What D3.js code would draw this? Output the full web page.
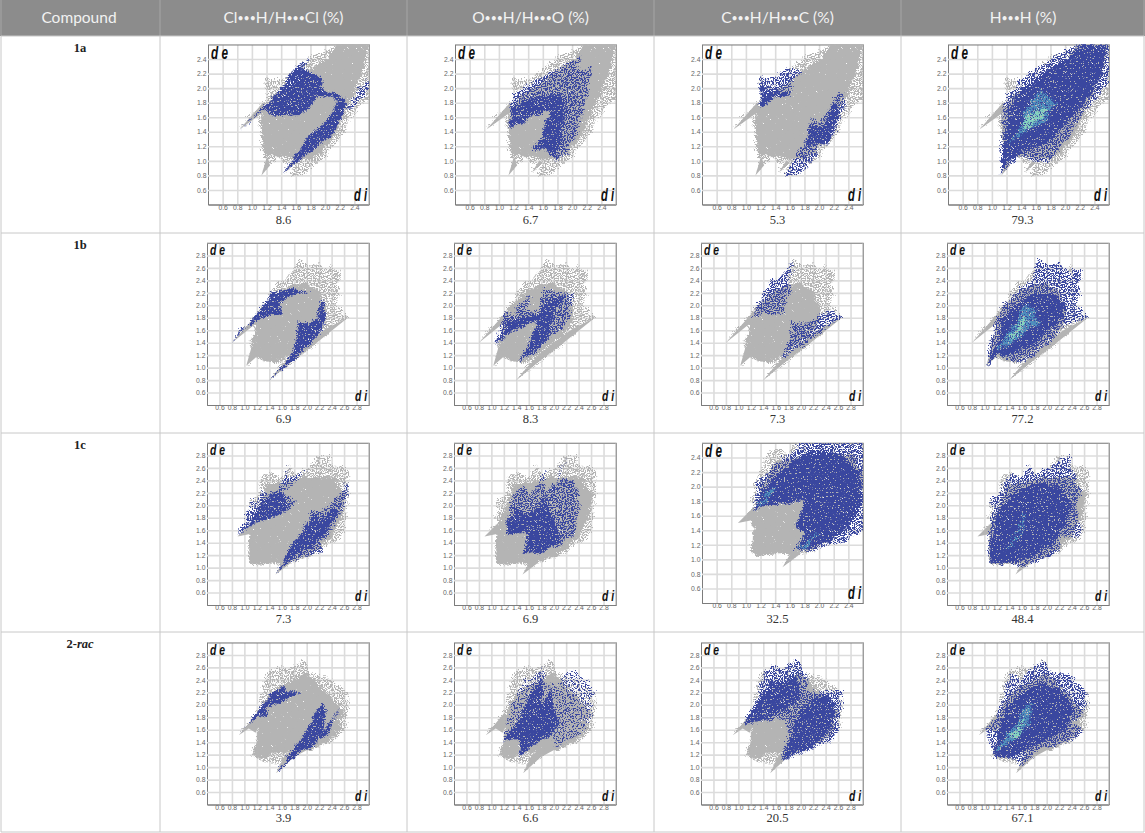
<!DOCTYPE html>
<html><head><meta charset="utf-8">
<script src="https://cdn.jsdelivr.net/npm/d3@7/dist/d3.min.js"></script>
<style>html,body{margin:0;padding:0;background:#fff}svg{display:block}</style>
</head><body><svg id="c" width="1145" height="833"></svg>
<script>
// ---- table content ----
const headers = ["Compound","Cl•••H/H•••Cl (%)","O•••H/H•••O (%)","C•••H/H•••C (%)","H•••H (%)"];
const compounds = ["1a","1b","1c","2-rac"];
const values1a = ["8.6","6.7","5.3","79.3"];
const values1b = ["6.9","8.3","7.3","77.2"];
const values1c = ["7.3","6.9","32.5","48.4"];
const values2r = ["3.9","6.6","20.5","67.1"];
const ticksShort = [0.6,0.8,1.0,1.2,1.4,1.6,1.8,2.0,2.2,2.4];
const ticksLong = [0.6,0.8,1.0,1.2,1.4,1.6,1.8,2.0,2.2,2.4,2.6,2.8];

// ---- fingerprint outlines: [di, de] ----
const greyOuter1a = [[0.83,1.43],[1.13,1.78],[1.2,1.85],[1.2,2.14],[1.25,2.1],[1.4,2.12],[1.55,2.2],[1.65,2.3],[1.8,2.42],[2.0,2.5],[2.15,2.62],[2.62,2.62],[2.62,1.9],[2.45,1.7],[2.3,1.5],[2.2,1.3],[2.13,1.2],[2.0,1.05],[1.9,0.95],[1.75,0.85],[1.6,0.78],[1.55,0.78],[1.55,0.88],[1.45,0.84],[1.55,1.0],[1.45,0.95],[1.35,1.05],[1.25,0.95],[1.13,0.8],[1.2,0.92],[1.15,1.15],[1.1,1.4],[1.13,1.7]];
const greyCore1a = [[1.12,1.4],[1.15,1.7],[1.3,1.9],[1.55,2.08],[1.8,2.25],[2.0,2.4],[2.15,2.6],[2.55,2.62],[2.52,2.3],[2.38,1.95],[2.22,1.62],[2.12,1.38],[1.95,1.15],[1.75,1.02],[1.5,1.06],[1.3,1.08],[1.18,1.12]];
const wedges1a = [[[0.83,1.43],[1.15,1.8],[1.2,1.7]],[[1.13,0.8],[1.25,0.94],[1.2,1.04]],[[1.45,0.84],[1.6,0.98],[1.55,1.0]]];
const greyOuter1b = [[0.8,1.4],[1.26,1.92],[1.44,2.22],[1.5,2.35],[1.68,2.43],[1.9,2.72],[2.0,2.62],[2.19,2.66],[2.35,2.51],[2.4,2.6],[2.54,2.51],[2.51,2.24],[2.46,1.98],[2.67,1.81],[2.3,1.52],[2.03,1.28],[1.79,1.07],[1.39,0.79],[1.58,1.07],[1.39,1.1],[1.26,1.16],[1.18,1.18],[1.03,1.03],[1.12,1.26],[1.11,1.42],[1.18,1.6],[1.15,1.72]];
const greyCore1b = [[1.12,1.3],[1.18,1.18],[1.3,1.12],[1.5,1.1],[1.7,1.2],[1.85,1.33],[2.1,1.5],[2.25,1.68],[2.3,1.9],[2.22,2.2],[2.0,2.35],[1.8,2.33],[1.55,2.22],[1.35,2.05],[1.22,1.85],[1.15,1.6],[1.12,1.45]];
const wedges1b = [[[0.8,1.4],[1.26,1.92],[1.3,1.75],[1.15,1.68]],[[1.03,1.03],[1.2,1.18],[1.12,1.35]],[[1.39,0.79],[1.79,1.12],[2.1,1.35],[2.67,1.81],[2.3,1.62],[2.0,1.4],[1.75,1.2]]];
const greyOuter1c = [[0.89,1.5],[1.07,1.68],[1.11,2.08],[1.18,2.09],[1.28,2.43],[1.44,2.52],[1.58,2.45],[1.72,2.67],[1.79,2.53],[2.0,2.56],[2.16,2.75],[2.36,2.83],[2.35,2.67],[2.46,2.61],[2.7,2.59],[2.67,2.43],[2.65,1.84],[2.56,1.46],[2.24,1.28],[1.95,1.12],[1.74,1.06],[1.5,0.89],[1.6,1.06],[1.34,1.12],[1.1,1.06],[1.07,1.12],[1.1,1.41],[1.11,1.62],[0.99,1.6]];
const greyCore1c = [[1.07,1.12],[1.12,1.06],[1.4,1.08],[1.7,1.1],[2.0,1.2],[2.2,1.35],[2.4,1.55],[2.55,1.85],[2.6,2.15],[2.45,2.45],[2.2,2.45],[1.95,2.45],[1.6,2.38],[1.4,2.35],[1.22,2.0],[1.1,1.6]];
const wedges1c = [[[0.89,1.5],[1.11,1.72],[1.15,1.55]],[[1.5,0.89],[1.75,1.08],[1.65,1.15]]];
const greyOuter2r = [[0.91,1.51],[1.2,1.86],[1.28,2.23],[1.42,2.55],[1.6,2.59],[1.79,2.6],[1.96,2.71],[2.08,2.5],[2.48,2.36],[2.62,2.18],[2.69,1.99],[2.62,1.59],[2.38,1.35],[2.06,1.3],[1.79,1.16],[1.51,0.9],[1.63,1.06],[1.36,1.06],[1.2,1.14],[1.12,1.19],[1.18,1.51],[1.07,1.64]];
const greyCore2r = [[1.15,1.17],[1.25,1.13],[1.5,1.25],[1.7,1.22],[1.85,1.25],[2.05,1.3],[2.3,1.42],[2.5,1.6],[2.55,1.9],[2.4,2.1],[2.2,2.3],[2.0,2.5],[1.85,2.45],[1.55,2.3],[1.35,2.1],[1.25,1.85],[1.2,1.6]];
const wedges2r = [[[0.91,1.51],[1.2,1.86],[1.3,1.8],[1.18,1.55],[1.07,1.62]],[[1.51,0.9],[1.79,1.16],[2.05,1.3],[1.85,1.3],[1.65,1.2]]];

const clUp1a = [[0.84,1.42],[1.0,1.58],[1.16,1.74],[1.3,1.88],[1.43,2.04],[1.57,2.26],[1.8,2.41],[1.68,2.26],[1.82,2.22],[1.97,2.13],[1.93,1.99],[2.02,1.95],[2.27,1.85],[2.28,1.8],[2.05,1.88],[1.9,1.9],[1.8,1.72],[1.65,1.63],[1.43,1.62],[1.25,1.62],[1.2,1.7],[1.1,1.65],[0.95,1.52]];
const clLow1a = [[1.43,0.83],[1.68,1.2],[1.73,1.29],[1.89,1.42],[2.05,1.6],[2.18,1.83],[2.25,1.85],[2.3,1.79],[2.18,1.51],[2.11,1.38],[1.89,1.2],[1.66,1.01]];
const clThin1a = [[2.3,1.72],[2.59,2.15],[2.59,1.98],[2.39,1.72]];
const oSparse1a = [[1.18,1.85],[1.33,2.03],[1.5,2.1],[1.7,2.2],[1.9,2.3],[2.12,2.45],[2.05,2.2],[2.27,2.3],[2.2,1.9],[2.1,1.5],[1.93,1.1],[1.75,0.98],[1.61,1.18],[1.45,1.14],[1.59,1.34],[1.7,1.7],[1.38,1.57],[1.14,1.45]];
const oDense1a = [[1.14,1.45],[1.18,1.75],[1.4,1.85],[1.7,1.92],[1.85,1.95],[1.9,1.7],[1.85,1.3],[1.75,1.05],[1.61,1.18],[1.45,1.14],[1.59,1.34],[1.7,1.7],[1.38,1.57]];
const cUp1a = [[1.2,1.82],[1.21,2.14],[1.3,2.12],[1.41,2.16],[1.55,2.27],[1.71,2.23],[1.8,2.2],[1.64,2.09],[1.6,1.9],[1.37,1.86],[1.23,1.73]];
const cLow1a = [[1.55,0.77],[1.62,0.93],[1.83,1.3],[1.89,1.59],[2.0,1.52],[2.12,1.68],[2.26,1.95],[2.37,1.77],[2.21,1.43],[2.12,1.2],[1.99,1.2],[1.94,1.07],[1.83,0.88]];
const cDense1a = [[1.2,1.78],[1.2,2.0],[1.45,1.98],[1.6,1.9],[1.37,1.86],[1.23,1.75]];
const cDenseB1a = [[1.8,1.2],[1.89,1.5],[2.05,1.45],[2.2,1.8],[2.28,1.7],[2.15,1.3],[2.1,1.22],[1.95,1.25]];
const hSparse1a = [[1.11,0.8],[1.13,1.24],[1.15,1.69],[1.2,1.87],[1.38,2.1],[1.56,2.24],[1.75,2.33],[1.97,2.49],[2.15,2.62],[2.62,2.62],[2.62,2.19],[2.47,1.9],[2.25,1.65],[2.1,1.42],[1.88,1.1],[1.75,0.94],[1.56,1.0],[1.38,1.05],[1.2,0.87]];
const hDense1a = [[1.12,0.82],[1.18,1.3],[1.22,1.7],[1.4,2.0],[1.7,2.2],[2.0,2.4],[2.25,2.6],[2.55,2.58],[2.5,2.15],[2.25,1.8],[2.0,1.5],[1.75,1.25],[1.4,1.12],[1.22,1.0]];
const hHeatA1a = [[1.2,1.21],[1.43,1.49],[1.47,1.69],[1.65,1.99],[1.88,1.78],[1.7,1.51],[1.34,1.33]];
const hHeatB1a = [[1.42,1.45],[1.5,1.62],[1.68,1.72],[1.78,1.68],[1.65,1.55],[1.45,1.4]];

const clUp1b = [[0.8,1.4],[1.26,1.92],[1.44,2.19],[1.71,2.26],[2.08,2.22],[1.87,2.19],[1.71,2.14],[1.55,2.03],[1.65,1.85],[1.44,1.86],[1.28,1.79],[1.12,1.68],[0.96,1.63]];
const clLow1b = [[1.39,0.79],[1.66,1.1],[1.79,1.26],[1.84,1.52],[1.87,1.74],[1.98,1.71],[2.14,1.76],[2.22,2.06],[2.27,2.08],[2.31,1.84],[2.24,1.58],[2.08,1.42],[1.87,1.18]];
const oSparse1b = [[1.06,1.39],[1.19,1.74],[1.22,1.87],[1.38,1.84],[1.43,2.0],[1.65,2.16],[1.57,1.9],[1.81,1.92],[1.81,2.27],[1.99,2.24],[2.18,2.19],[2.31,2.19],[2.26,1.84],[2.13,1.58],[1.91,1.47],[1.7,1.2],[1.44,1.1],[1.65,1.47],[1.73,1.74],[1.43,1.63],[1.25,1.52]];
const oDense1b = [[1.06,1.39],[1.2,1.6],[1.25,1.75],[1.45,1.8],[1.75,1.85],[1.8,2.0],[2.0,2.1],[2.22,2.18],[2.0,1.9],[1.95,1.65],[1.85,1.4],[1.65,1.25],[1.44,1.1],[1.65,1.47],[1.73,1.74],[1.43,1.63],[1.25,1.52]];
const cUp1b = [[1.23,1.79],[1.39,2.16],[1.5,2.38],[1.71,2.48],[1.89,2.72],[1.79,2.43],[1.84,2.14],[1.71,2.0],[1.75,1.85],[1.55,1.84],[1.42,1.89]];
const cLow1b = [[1.7,1.15],[1.82,1.42],[1.86,1.75],[1.98,1.71],[2.14,1.71],[2.3,1.85],[2.46,1.89],[2.67,1.81],[2.3,1.55],[1.92,1.26]];
const hSparse1b = [[1.03,1.03],[1.1,1.36],[1.15,1.63],[1.34,2.03],[1.58,2.27],[1.74,2.4],[1.87,2.72],[1.98,2.62],[2.19,2.67],[2.38,2.48],[2.43,2.59],[2.55,2.51],[2.51,2.22],[2.46,1.98],[2.66,1.81],[2.32,1.68],[2.06,1.42],[1.84,1.2],[1.58,1.1],[1.36,1.11],[1.2,1.23]];
const hDense1b = [[1.05,1.05],[1.2,1.4],[1.3,1.8],[1.55,2.05],[1.8,2.2],[2.1,2.2],[2.3,2.0],[2.2,1.75],[1.95,1.55],[1.75,1.35],[1.4,1.2],[1.2,1.2]];
const hHeatA1b = [[1.2,1.26],[1.47,1.69],[1.63,1.96],[1.76,2.0],[1.9,1.69],[1.68,1.58],[1.42,1.37]];
const hHeatB1b = [[1.39,1.42],[1.5,1.63],[1.63,1.79],[1.71,1.76],[1.6,1.58]];

const clUp1c = [[0.89,1.5],[1.11,1.97],[1.15,2.09],[1.2,1.97],[1.26,2.24],[1.36,2.1],[1.58,2.29],[1.72,2.67],[1.68,2.43],[2.03,2.56],[1.79,2.35],[1.6,2.19],[1.84,2.08],[1.66,1.89],[1.44,1.81],[1.07,1.65]];
const clUpD1c = [[0.89,1.5],[1.15,1.8],[1.25,2.05],[1.5,2.2],[1.62,2.2],[1.7,2.0],[1.66,1.89],[1.44,1.81],[1.07,1.65]];
const clLow1c = [[1.49,0.89],[1.76,1.36],[1.95,1.62],[2.11,1.92],[2.24,1.87],[2.46,2.11],[2.65,2.33],[2.62,2.05],[2.46,1.7],[2.24,1.41],[2.24,1.25],[2.03,1.2],[1.87,1.12],[1.71,1.07]];
const clLowD1c = [[1.55,0.95],[1.76,1.38],[1.95,1.6],[2.1,1.85],[2.25,1.8],[2.42,1.95],[2.5,1.9],[2.3,1.55],[2.05,1.32],[1.8,1.2]];
const oSparse1c = [[1.22,1.52],[1.33,2.1],[1.49,2.34],[1.62,2.1],[1.86,2.58],[1.86,2.21],[2.02,2.37],[2.21,2.74],[2.07,2.43],[2.34,2.4],[2.42,2.0],[2.31,1.52],[2.18,1.41],[1.86,1.25],[1.78,1.21],[1.51,1.22],[1.59,1.58],[1.27,1.51]];
const oDense1c = [[1.22,1.52],[1.25,1.72],[1.4,1.95],[1.5,1.9],[1.6,1.85],[1.8,2.05],[1.85,2.2],[1.9,1.9],[2.05,1.7],[2.1,1.45],[1.85,1.25],[1.51,1.22],[1.59,1.58]];
const cSparse1c = [[1.11,1.64],[1.14,2.04],[1.18,2.08],[1.27,2.13],[1.36,2.26],[1.64,2.47],[1.7,2.62],[2.62,2.62],[2.62,1.4],[2.36,1.26],[2.09,1.15],[1.82,1.1],[1.64,1.12],[1.82,1.35],[1.68,1.45],[1.82,1.81],[1.25,1.74]];
const cDense1c = [[1.11,1.65],[1.2,1.9],[1.35,2.1],[1.65,2.35],[1.9,2.5],[2.3,2.45],[2.55,2.2],[2.58,1.8],[2.45,1.5],[2.15,1.25],[1.7,1.13],[1.82,1.35],[1.68,1.45],[1.82,1.81],[1.25,1.74]];
const cHeatA1c = [[1.15,1.72],[1.35,1.98],[1.4,1.96],[1.2,1.72]];
const cHeatB1c = [[1.7,1.13],[1.95,1.35],[2.0,1.36],[1.8,1.15]];
const hSparse1c = [[1.07,1.25],[1.13,2.08],[1.34,2.32],[1.44,2.5],[1.58,2.45],[1.72,2.67],[1.79,2.5],[2.08,2.61],[2.35,2.83],[2.38,2.59],[2.46,2.43],[2.54,2.24],[2.46,1.95],[2.56,1.49],[2.24,1.52],[2.19,1.28],[1.95,1.12],[1.6,0.98],[1.52,1.06],[1.11,1.06]];
const hDense1c = [[1.08,1.08],[1.12,1.5],[1.25,1.95],[1.5,2.2],[1.8,2.35],[2.15,2.35],[2.4,2.05],[2.3,1.7],[2.1,1.4],[1.8,1.2],[1.4,1.08]];
const hHeatA1c = [[1.35,1.3],[1.5,1.55],[1.62,1.85],[1.7,1.8],[1.6,1.5],[1.42,1.3]];

const clUp2r = [[0.91,1.51],[1.2,1.86],[1.44,2.18],[1.66,2.32],[1.68,2.2],[1.9,2.2],[1.68,2.09],[1.36,1.94],[1.36,1.83],[1.2,1.8],[1.04,1.67]];
const clLow2r = [[1.51,0.9],[1.79,1.3],[1.98,1.56],[2.24,2.03],[2.31,1.94],[2.27,1.56],[2.51,1.93],[2.35,1.56],[2.06,1.32],[1.79,1.16]];
const oSparse2r = [[1.17,1.43],[1.35,2.02],[1.54,2.39],[1.67,2.42],[1.83,2.6],[1.86,2.35],[1.99,2.31],[2.26,2.55],[2.58,2.36],[2.63,2.15],[2.63,1.83],[2.42,1.51],[2.02,1.32],[1.97,1.46],[1.81,1.46],[1.45,1.16],[1.46,1.45]];
const oDense2r = [[1.17,1.43],[1.4,1.7],[1.55,2.0],[1.7,2.3],[1.8,2.55],[1.82,2.0],[1.95,2.3],[2.0,1.95],[2.1,1.7],[1.95,1.5],[1.81,1.46],[1.45,1.16],[1.46,1.45]];
const cSparse2r = [[1.09,1.67],[1.29,2.07],[1.45,2.53],[1.53,2.6],[1.72,2.55],[1.8,2.63],[1.96,2.71],[2.09,2.47],[2.09,2.2],[2.36,2.2],[2.62,2.23],[2.68,1.96],[2.6,1.72],[2.62,1.59],[2.52,1.4],[2.2,1.3],[1.69,1.09],[1.8,1.52],[1.77,1.75],[1.4,1.75],[1.18,1.67]];
const cDense2r = [[1.09,1.67],[1.3,2.05],[1.5,2.4],[1.75,2.4],[1.95,2.5],[2.0,2.1],[1.8,1.95],[1.5,1.8],[1.2,1.7]];
const cDenseB2r = [[1.7,1.12],[2.2,1.35],[2.5,1.65],[2.55,2.0],[2.45,2.15],[2.2,2.1],[2.0,1.9],[1.9,1.7],[1.85,1.5]];
const hSparse2r = [[1.13,1.27],[1.02,1.61],[1.18,1.77],[1.34,2.2],[1.44,2.49],[1.58,2.41],[1.82,2.62],[1.95,2.68],[2.06,2.54],[2.4,2.44],[2.56,2.3],[2.67,1.99],[2.56,1.83],[2.4,1.69],[2.59,1.56],[2.4,1.4],[2.14,1.35],[1.87,1.27],[1.6,1.03],[1.5,1.13],[1.18,1.16]];
const hDense2r = [[1.15,1.15],[1.2,1.5],[1.35,1.95],[1.6,2.2],[1.9,2.35],[2.2,2.25],[2.45,1.95],[2.3,1.6],[2.0,1.45],[1.7,1.3],[1.4,1.15]];
const hHeatA2r = [[1.18,1.21],[1.47,1.67],[1.68,1.96],[1.74,2.06],[1.74,1.72],[1.55,1.51],[1.28,1.27]];
const hHeatB2r = [[1.4,1.48],[1.55,1.68],[1.65,1.75],[1.57,1.47]];

// ---- styling and page layout (not data) ----
const GREY="#b4b4b4", BLUE="#3a479f", HA="#4f8fbc", HB="#86d2bf";
const colLefts=[208,455,702,948], colWidth=161;
const rowTops=[44.5,243,443,642.5], plotH=[160,162,162,162];
const colEdges=[1,160,407,654,901,1144], rowEdges=[36,233,433,632,832];
const valueY=[220,419,619,818];

const svg=d3.select("#c");
const defs=svg.append("defs");
function mkFilter(id,cut,fine,coarse,blur){
  const f=defs.append("filter").attr("id",id).attr("x","-10%").attr("y","-10%").attr("width","120%").attr("height","120%")
    .attr("color-interpolation-filters","sRGB");
  f.append("feTurbulence").attr("type","fractalNoise").attr("baseFrequency","0.73 0.79").attr("numOctaves",3).attr("seed",11).attr("result","n");
  f.append("feTurbulence").attr("type","fractalNoise").attr("baseFrequency",0.11).attr("numOctaves",2).attr("seed",4).attr("result","n2");
  f.append("feDisplacementMap").attr("in","SourceGraphic").attr("in2","n2").attr("scale",coarse).attr("xChannelSelector","R").attr("yChannelSelector","G").attr("result","d1");
  f.append("feDisplacementMap").attr("in","d1").attr("in2","n").attr("scale",fine).attr("xChannelSelector","G").attr("yChannelSelector","R").attr("result","d");
  f.append("feColorMatrix").attr("in","n").attr("type","matrix").attr("values",`0 0 0 0 0 0 0 0 0 0 0 0 0 0 0 14 0 0 0 ${cut}`).attr("result","m");
  f.append("feComposite").attr("in","d").attr("in2","m").attr("operator","in").attr("result","s");
  f.append("feGaussianBlur").attr("in","s").attr("stdDeviation",blur);
}
mkFilter("sparse",-7.4,8,8,0.3);
mkFilter("mid",-6.4,8,8,0.3);
mkFilter("dense",-4.2,6,6,0.3);
mkFilter("heat",-5.6,8,10,0.6);

svg.append("rect").attr("width",1145).attr("height",833).attr("fill","#fff");
svg.append("rect").attr("width",1145).attr("height",36).attr("fill","#8c8c8c");
const headCx=[79,283.5,530.5,777.5,1023];
const head=svg.selectAll("text.h").data(headers).join("text").attr("class","h")
  .attr("x",(d,i)=>headCx[i]).attr("y",23).attr("text-anchor","middle")
  .attr("fill","#f2f2f2").style("font","15.5px Lato, sans-serif");
head.each(function(d){
  const t=d3.select(this);
  d.split("•••").forEach((part,i)=>{
    if(i>0) t.append("tspan").attr("font-size",10.5).attr("dy",-1.5).text("•••");
    t.append("tspan").attr("dy",i>0?1.5:0).text(part);
  });
});
colEdges.forEach(e=>{
  svg.append("line").attr("x1",e).attr("x2",e).attr("y1",0).attr("y2",36).attr("stroke","#a6a6a6");
  svg.append("line").attr("x1",e).attr("x2",e).attr("y1",36).attr("y2",832).attr("stroke","#c8c8c8");
});
rowEdges.forEach(e=>svg.append("line").attr("x1",1).attr("x2",1144).attr("y1",e).attr("y2",e).attr("stroke","#c8c8c8"));
compounds.forEach((c,i)=>{
  const t=svg.append("text").attr("x",80).attr("y",rowEdges[i]+16).attr("text-anchor","middle")
    .attr("fill","#222").style("font","bold 12.5px 'Liberation Serif', serif");
  if(c.includes("-")){const [a,b]=c.split("-");t.append("tspan").text(a+"-");t.append("tspan").attr("font-style","italic").text(b);}
  else t.text(c);
});

const greys=[[greyOuter1a,greyCore1a,wedges1a],[greyOuter1b,greyCore1b,wedges1b],[greyOuter1c,greyCore1c,wedges1c],[greyOuter2r,greyCore2r,wedges2r]];
const valueRows=[values1a,values1b,values1c,values2r];
const panels=[
 [
  [["mid",BLUE,clThin1a],["dense",BLUE,clUp1a],["dense",BLUE,clLow1a]],
  [["mid",BLUE,oSparse1a],["dense",BLUE,oDense1a]],
  [["mid",BLUE,cUp1a],["mid",BLUE,cLow1a],["dense",BLUE,cDense1a],["dense",BLUE,cDenseB1a]],
  [["mid",BLUE,hSparse1a],["dense",BLUE,hDense1a],["dense",BLUE,hDense1a],["heat",HA,hHeatA1a],["heat",HB,hHeatB1a]]
 ],[
  [["dense",BLUE,clUp1b],["dense",BLUE,clLow1b]],
  [["mid",BLUE,oSparse1b],["dense",BLUE,oDense1b]],
  [["mid",BLUE,cUp1b],["mid",BLUE,cLow1b]],
  [["sparse",BLUE,hSparse1b],["mid",BLUE,hSparse1b],["dense",BLUE,hDense1b],["dense",BLUE,hDense1b],["heat",HA,hHeatA1b],["heat",HB,hHeatB1b]]
 ],[
  [["mid",BLUE,clUp1c],["mid",BLUE,clLow1c],["dense",BLUE,clUpD1c],["dense",BLUE,clLowD1c]],
  [["mid",BLUE,oSparse1c],["dense",BLUE,oDense1c]],
  [["mid",BLUE,cSparse1c],["dense",BLUE,cDense1c],["dense",BLUE,cDense1c],["heat",HA,cHeatA1c],["heat",HA,cHeatB1c]],
  [["mid",BLUE,hSparse1c],["dense",BLUE,hDense1c],["dense",BLUE,hDense1c],["sparse",HA,hHeatA1c]]
 ],[
  [["dense",BLUE,clUp2r],["dense",BLUE,clLow2r]],
  [["sparse",BLUE,oSparse2r],["mid",BLUE,oDense2r],["dense",BLUE,oDense2r]],
  [["mid",BLUE,cSparse2r],["dense",BLUE,cDense2r],["dense",BLUE,cDenseB2r]],
  [["mid",BLUE,hSparse2r],["dense",BLUE,hDense2r],["dense",BLUE,hDense2r],["heat",HA,hHeatA2r],["heat",HB,hHeatB2r]]
 ]
];

function isShort(r,c){return r===0||(r===2&&c===2);}
const path=(x,y)=>d3.line().x(d=>x(d[0])).y(d=>y(d[1])).curve(d3.curveLinearClosed);

panels.forEach((row,r)=>row.forEach((layers,c)=>{
  const short=isShort(r,c);
  const left=colLefts[c]-(short?0:1), w=colWidth+(short?0:1), h=short?160:plotH[r];
  const top=rowTops[r];
  const x=d3.scaleLinear().domain(short?[0.4,2.6]:[0.4,3.0]).range([0,w]);
  const y=d3.scaleLinear().domain(short?[0.4,2.6]:[0.4,3.0]).range([h,0]);
  const ticks=short?ticksShort:ticksLong;
  const g=svg.append("g").attr("transform",`translate(${left},${top})`);
  const clipId=`clip${r}${c}`;
  defs.append("clipPath").attr("id",clipId).append("rect").attr("width",w).attr("height",h);

  const axX=g.append("g").attr("transform",`translate(0,${h})`)
    .call(d3.axisBottom(x).tickValues(ticks).tickFormat(d3.format(".1f")).tickSize(-h).tickPadding(0.5));
  const axY=g.append("g")
    .call(d3.axisLeft(y).tickValues(ticks).tickFormat(d3.format(".1f")).tickSize(-w).tickPadding(1.5));
  [axX,axY].forEach(a=>{
    a.select(".domain").attr("stroke","#7c7c7c");
    a.selectAll(".tick line").attr("stroke","#dcdcdc").attr("stroke-width",1.6);
    a.selectAll(".tick text").attr("fill","#666").style("font","6.8px 'Liberation Sans', sans-serif");
  });
  g.append("path").attr("d",`M0,0H${w}V${h}`).attr("fill","none").attr("stroke","#b5b5b5").attr("stroke-width",1.2);

  const plot=g.append("g").attr("clip-path",`url(#${clipId})`);
  const line=path(x,y);
  const [outer,core,wedges]=greys[r];
  plot.append("path").attr("d",line(outer)).attr("fill",GREY).attr("filter","url(#mid)");
  plot.append("path").attr("d",line(core)).attr("fill",GREY).attr("filter","url(#dense)");
  plot.append("path").attr("d",line(core)).attr("fill",GREY).attr("filter","url(#dense)").attr("transform","translate(1,1)");
  plot.selectAll("path.w").data(wedges).join("path").attr("class","w").attr("d",line).attr("fill",GREY);
  plot.selectAll("path.b").data(layers).join("path").attr("class","b")
    .attr("d",d=>line(d[2])).attr("fill",d=>d[1]).attr("filter",d=>`url(#${d[0]})`);

  const fs=short?18:15.5;
  const lab=g.append("g").attr("fill","#111").style("font",`italic bold ${fs}px 'Liberation Sans', sans-serif`);
  lab.append("text").attr("x",3).attr("y",short?14:12).attr("textLength",short?17:15).attr("lengthAdjust","spacingAndGlyphs").text("d e");
  lab.append("text").attr("x",w-(short?15:14)).attr("y",h-4).attr("textLength",short?13:12).attr("lengthAdjust","spacingAndGlyphs").text("d i");

  svg.append("text").attr("x",(colEdges[c+1]+colEdges[c+2])/2).attr("y",valueY[r]+4).attr("text-anchor","middle")
    .attr("fill","#333").style("font","12.5px 'Liberation Serif', serif").text(valueRows[r][c]);
}));
</script></body></html>
